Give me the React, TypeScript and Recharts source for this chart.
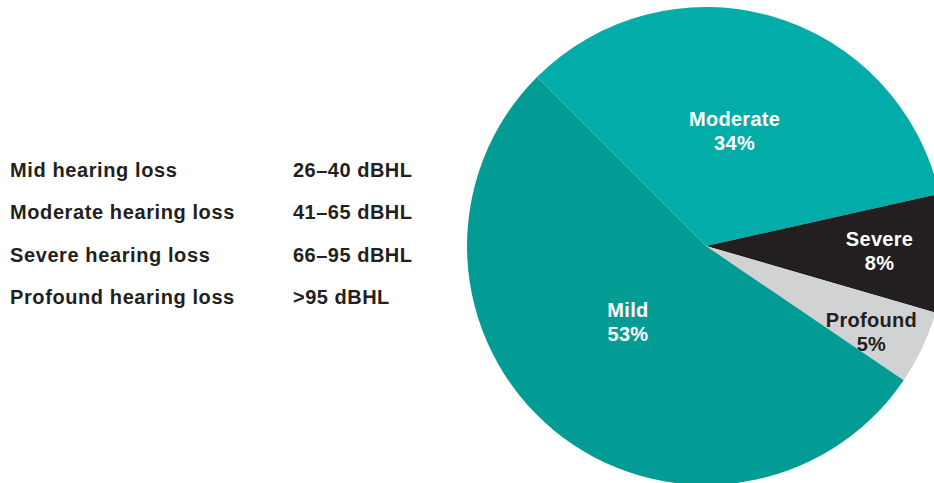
import React from "react";
import { PieChart, Pie, Cell } from "recharts";

const categories = ["Moderate", "Severe", "Profound", "Mild"];
const shares = [34, 8, 5, 53];
const sliceColors = ["#02ADA9", "#231F20", "#D1D2D4", "#039C95"];
const labelColors = ["#FFFFFF", "#FFFFFF", "#231F20", "#FFFFFF"];

const legendNames = [
  "Mid hearing loss",
  "Moderate hearing loss",
  "Severe hearing loss",
  "Profound hearing loss",
];
const legendRanges = ["26–40 dBHL", "41–65 dBHL", "66–95 dBHL", ">95 dBHL"];

const data = categories.map((name, i) => ({ name, value: shares[i] }));

const FONT = '"Liberation Sans", Arial, Helvetica, sans-serif';
const RADIAN = Math.PI / 180;
// label placement tuning: [radius, angle shift]
const labelPlace: [number, number][] = [
  [119, 2.3],
  [173.6, 0.15],
  [186, -2.0],
  [108.7, -6.3],
];

const renderLabel = (props: any) => {
  const { cx, cy, midAngle, index, name, value } = props;
  const [r, shift] = labelPlace[index];
  const a = (midAngle + shift) * RADIAN;
  const x = cx + r * Math.cos(-a);
  const y = cy + r * Math.sin(-a);
  return (
    <text
      x={x}
      y={y}
      textAnchor="middle"
      fill={labelColors[index]}
      fontFamily={FONT}
      fontWeight="bold"
      fontSize={20}
      letterSpacing={0.3}
    >
      <tspan x={x} y={y + 7.5} dy={-12}>
        {name}
      </tspan>
      <tspan x={x} y={y + 7.5} dy={12}>
        {value}%
      </tspan>
    </text>
  );
};

export default function App() {
  return (
    <div
      style={{
        position: "absolute",
        left: 0,
        top: 0,
        width: 934,
        height: 483,
        overflow: "hidden",
        background: "#fff",
      }}
    >
      <div style={{ position: "absolute", left: 0, top: 0 }}>
        <PieChart width={934} height={483} margin={{ top: 0, right: 0, bottom: 0, left: 0 }}>
          <Pie
            data={data}
            dataKey="value"
            nameKey="name"
            cx={706}
            cy={246}
            outerRadius={239}
            startAngle={135}
            endAngle={-225}
            stroke="none"
            labelLine={false}
            label={renderLabel}
            isAnimationActive={false}
          >
            {data.map((d, i) => (
              <Cell key={d.name} fill={sliceColors[i]} />
            ))}
          </Pie>
        </PieChart>
      </div>
      <svg
        width={460}
        height={483}
        style={{ position: "absolute", left: 0, top: 0 }}
      >
        {legendNames.map((n, i) => (
          <g key={n}>
            <text
              x={10}
              y={176.7 + i * 42.5}
              fontFamily={FONT}
              fontWeight="bold"
              fontSize={20}
              letterSpacing={0.6}
              fill="#231F20"
            >
              {n}
            </text>
            <text
              x={293}
              y={176.7 + i * 42.5}
              fontFamily={FONT}
              fontWeight="bold"
              fontSize={20}
              letterSpacing={0.5}
              fill="#231F20"
            >
              {legendRanges[i]}
            </text>
          </g>
        ))}
      </svg>
    </div>
  );
}
